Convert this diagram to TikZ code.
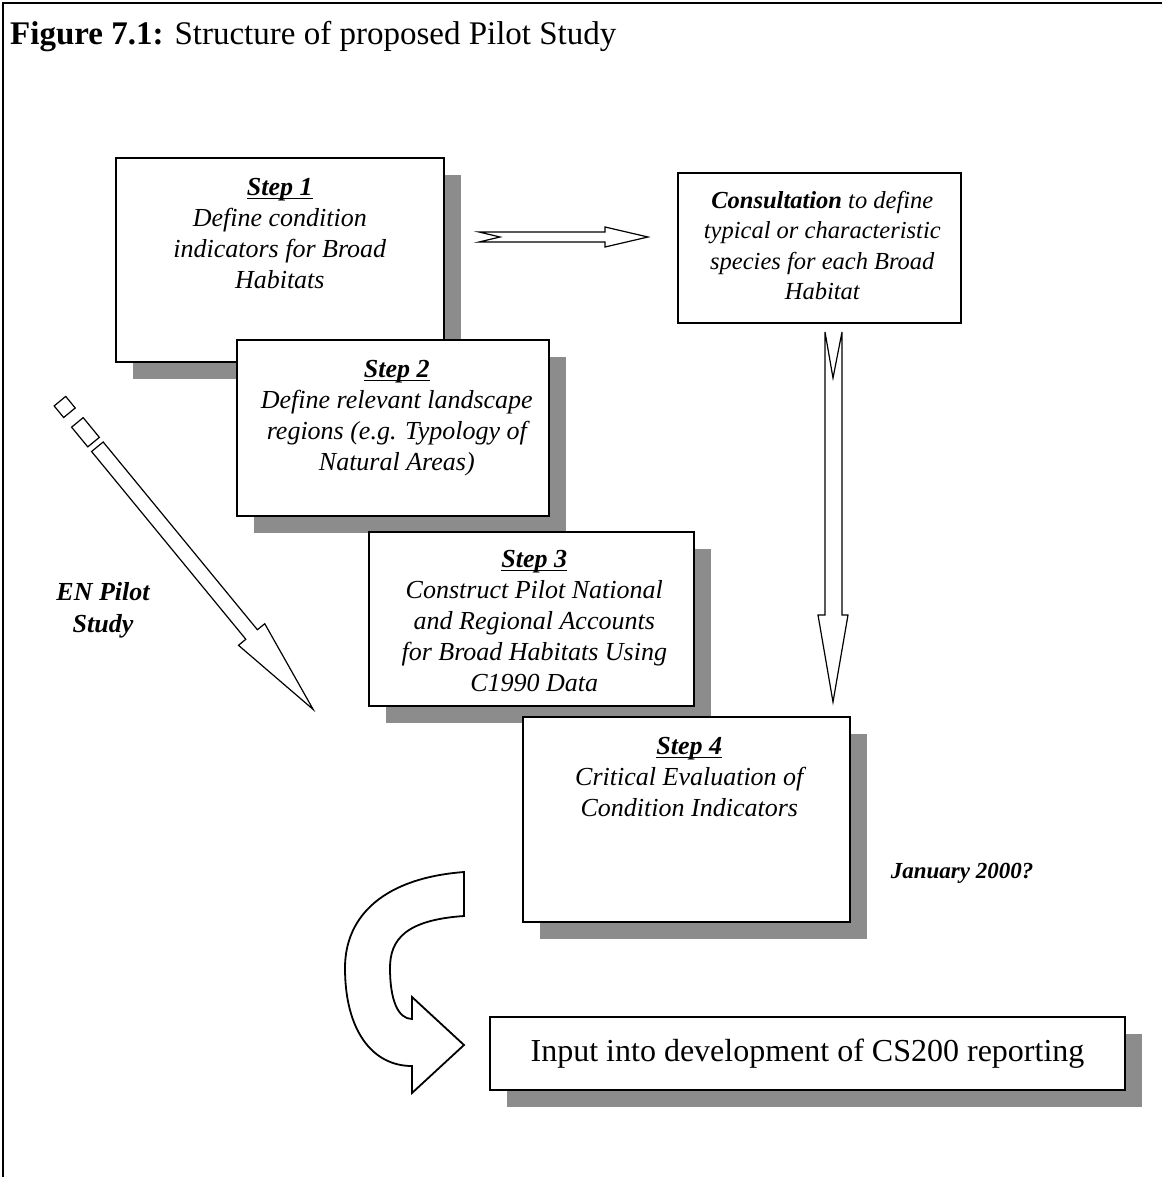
\documentclass[tikz,border=0pt]{standalone}
\usepackage{fontspec}
\setmainfont{Liberation Serif}
\usetikzlibrary{calc,shadows}
\newcommand\stepul[1]{\setbox0\hbox{#1}\rlap{\rule[-3.5pt]{\wd0}{1.4pt}}\box0}
\begin{document}
\begin{tikzpicture}[x=1pt,y=-1pt,
  box/.style={draw=black, line width=1.6pt, fill=white, inner sep=0pt},
  shbox/.style={box, drop shadow={shadow xshift=17pt, shadow yshift=-17pt, fill=black!45, opacity=1}},
  steptext/.style={font=\fontsize{26}{31}\selectfont\itshape, align=center, inner sep=0pt, anchor=north},
  blockarrow/.style={draw=black, line width=1.4pt, fill=white, line join=miter}]
\useasboundingbox (0,0) rectangle (1162,1177);
% frame
\draw[line width=2pt] (3,1177) -- (3,3) -- (1162,3);
\node[anchor=base west, font=\fontsize{33}{38}\selectfont, inner sep=0pt] (title) at (10,45)
  {\textbf{Figure 7.1:} Structure of proposed Pilot Study};

% boxes
\node[shbox, anchor=north west, minimum width=328pt, minimum height=204pt] (s1) at (115,157) {};
\node[steptext] (s1t) at ($(s1.north)+(0,21)$) {\stepul{\textbf{Step 1}}\\Define condition\\indicators for Broad\\Habitats};
\node[shbox, anchor=north west, minimum width=312pt, minimum height=176pt] (s2) at (236,339) {};
\node[steptext] (s2t) at ($(s2.north)+(4,21)$) {\stepul{\textbf{Step 2}}\\Define relevant landscape\\regions (e.g. Typology of\\Natural Areas)};
\node[shbox, anchor=north west, minimum width=325pt, minimum height=174pt] (s3) at (368,531) {};
\node[steptext] (s3t) at ($(s3.north)+(3,19)$) {\stepul{\textbf{Step 3}}\\Construct Pilot National\\and Regional Accounts\\for Broad Habitats Using\\C1990 Data};
\node[shbox, anchor=north west, minimum width=327pt, minimum height=205pt] (s4) at (522,716) {};
\node[steptext] (s4t) at ($(s4.north)+(3,21)$) {\stepul{\textbf{Step 4}}\\Critical Evaluation of\\Condition Indicators};
\node[box, anchor=north west, minimum width=283pt, minimum height=150pt] (con) at (677,172) {};
\node[steptext, font=\fontsize{24.5}{30.5}\selectfont\itshape] (cont) at ($(con.north)+(3,19)$)
  {\textbf{Consultation} to define\\typical or characteristic\\species for each Broad\\Habitat};
\node[shbox, minimum width=635pt, minimum height=73pt, font=\fontsize{32}{38}\selectfont] (inp) at (807.5,1053.5)
  {Input into development of CS200 reporting};

\node[font=\fontsize{26}{32}\selectfont\bfseries\itshape, align=center, inner sep=0pt, anchor=north] (en) at (103,582) {EN Pilot\\Study};
\node[font=\fontsize{23}{28}\selectfont\bfseries\itshape, inner sep=0pt] (jan) at (962,873) {January 2000?};

% horizontal arrow Step 1 -> Consultation
\draw[blockarrow, line width=1.2pt] (479,232) -- (605,232) -- (605,227) -- (648,237) -- (605,247) -- (605,242) -- (479,242) -- (500,237) -- cycle;
% down arrow Consultation -> Step 4
\draw[blockarrow, line width=1.2pt] (825,332) -- (833,378) -- (842,332) -- (842,615) -- (848,615) -- (833,702) -- (818,615) -- (825,615) -- cycle;
% diagonal EN Pilot Study arrow
\begin{scope}[shift={(61.2,402.7)}, rotate=-50.6]
  \draw[blockarrow, line width=1.2pt] (-2,-7.5) rectangle (13,7.5);
  \draw[blockarrow, line width=1.2pt] (25.5,-7.5) rectangle (51,7.5);
  \draw[blockarrow, line width=1.2pt] (57,-7.5) -- (300,-7.5) -- (300,-17) -- (397,0) -- (300,17) -- (300,7.5) -- (57,7.5) -- cycle;
\end{scope}
% curved arrow
\draw[blockarrow, line width=1.8pt] (464,872) .. controls (385,878) and (345,915) .. (345,968)
  .. controls (345,1030) and (372,1066) .. (412,1066) -- (412,1093) -- (464,1045) -- (412,997) -- (412,1019)
  .. controls (398,1019) and (390,1000) .. (390,968) .. controls (390,940) and (405,920) .. (464,916) -- cycle;
\end{tikzpicture}
\end{document}
